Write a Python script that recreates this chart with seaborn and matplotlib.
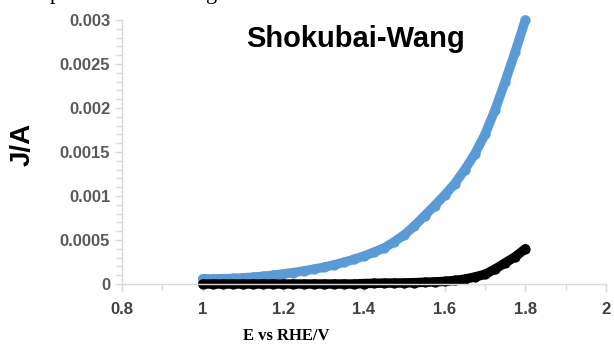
import numpy as np
import pandas as pd
import seaborn as sns
import matplotlib
matplotlib.use("Agg")
import matplotlib.pyplot as plt
from matplotlib.ticker import MultipleLocator, FuncFormatter

# Potential (V vs RHE) and current (A) for the two samples
potential = [1.000, 1.025, 1.050, 1.075, 1.100, 1.125, 1.150, 1.175, 1.200,
             1.225, 1.250, 1.275, 1.300, 1.325, 1.350, 1.375, 1.400, 1.425,
             1.450, 1.475, 1.500, 1.525, 1.550, 1.575, 1.600, 1.625, 1.650,
             1.675, 1.700, 1.725, 1.750, 1.775, 1.800]
current_blue = [0.000060, 0.000058, 0.000060, 0.000064, 0.000070, 0.000078,
                0.000088, 0.000100, 0.000115, 0.000130, 0.000148, 0.000168,
                0.000190, 0.000217, 0.000247, 0.000280, 0.000318, 0.000362,
                0.000410, 0.000480, 0.000560, 0.000660, 0.000775, 0.000890,
                0.001010, 0.001140, 0.001300, 0.001480, 0.001700, 0.001980,
                0.002300, 0.002640, 0.003000]
current_black = [0.0, 0.0, 0.0, 0.0, 0.0, 0.0, 0.0, 0.0, 0.0, 0.0, 0.0, 0.0,
                 0.0, 0.0, 0.0, 0.0, 0.000005, 0.000008, 0.000010, 0.000011,
                 0.000012, 0.000015, 0.000020, 0.000024, 0.000030, 0.000040,
                 0.000055, 0.000080, 0.000110, 0.000170, 0.000240, 0.000310,
                 0.000400]

title_text = "Shokubai-Wang"
x_label = "E vs RHE/V"
y_label = "J/A"

sns.set_theme(style="white")
plt.rcParams["font.family"] = ["Liberation Sans", "DejaVu Sans"]

df = pd.DataFrame({
    "E": potential * 2,
    "J": current_blue + current_black,
    "sample": ["blue"] * len(potential) + ["black"] * len(potential),
})

fig = plt.figure(figsize=(6.14, 3.48), dpi=100)
ax = fig.add_axes([122 / 614, 64 / 348, 484 / 614, 264 / 348])

sns.lineplot(data=df, x="E", y="J", hue="sample",
             palette={"blue": "#5b9bd5", "black": "#000000"},
             hue_order=["blue", "black"], sort=False, legend=False,
             marker="o", markeredgewidth=0, ax=ax)
for line in ax.lines:
    line.set_linewidth(6.8)
    line.set_markersize(7.4)
    line.set_markeredgewidth(0)
    line.set_solid_capstyle("round")
    line.set_solid_joinstyle("round")
    line.set_clip_on(False)

ax.set_xlim(0.8, 2.0)
ax.set_ylim(0, 0.003)
ax.xaxis.set_major_locator(MultipleLocator(0.2))
ax.xaxis.set_minor_locator(MultipleLocator(0.1))
ax.yaxis.set_major_locator(MultipleLocator(0.0005))
ax.yaxis.set_minor_locator(MultipleLocator(0.0001))
fmt = FuncFormatter(lambda v, p: "%g" % round(v, 6))
ax.xaxis.set_major_formatter(fmt)
ax.yaxis.set_major_formatter(fmt)

for side in ("top", "right"):
    ax.spines[side].set_visible(False)
for side in ("left", "bottom"):
    ax.spines[side].set_color("#d9d9d9")
    ax.spines[side].set_linewidth(1.0)

ax.tick_params(axis="both", which="both", direction="out", color="#d9d9d9",
               width=1.0, left=True, bottom=True)
ax.tick_params(axis="y", which="major", length=5, pad=3.5,
               labelsize=12, labelcolor="#595959")
ax.tick_params(axis="y", which="minor", length=4)
ax.tick_params(axis="x", which="major", length=6, pad=7,
               labelsize=12, labelcolor="#404040")
ax.tick_params(axis="x", which="minor", length=4)
for lab in ax.get_xticklabels() + ax.get_yticklabels():
    lab.set_fontweight("bold")

ax.set_xlabel(x_label, fontsize=12, fontweight="bold",
              family=["Liberation Serif", "DejaVu Serif"], color="black")
ax.xaxis.set_label_coords(0.339, -0.165)
ax.set_ylabel(y_label, fontsize=20, fontweight="bold", color="black")
ax.yaxis.set_label_coords(-0.178, 0.527)

ax.text(0.4835, 0.899, title_text, transform=ax.transAxes, ha="center",
        va="baseline", fontsize=21, fontweight="bold", color="black")

# Descenders of the caption line running off the top edge
fig.text(50 / 614, 1.0 + 1 / 348, "p", family=["Liberation Serif"],
         fontsize=16, color="black", va="baseline")
fig.text(206 / 614, 1.0 + 1 / 348, "g", family=["Liberation Serif"],
         fontsize=16, color="black", va="baseline")

fig.savefig("out.png", dpi=100)
